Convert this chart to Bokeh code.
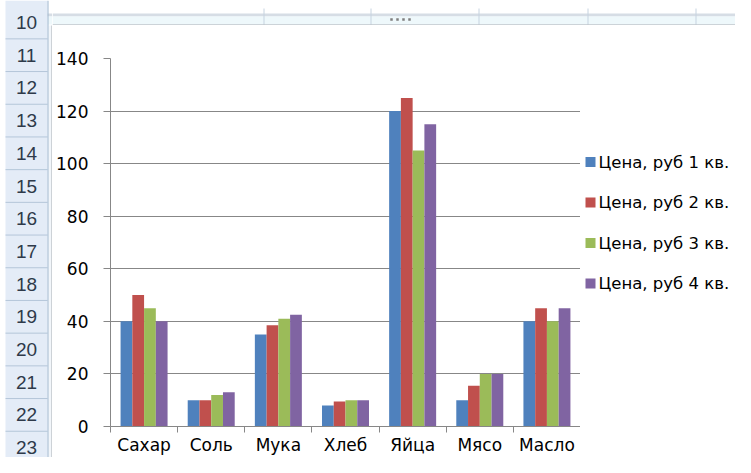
from bokeh.plotting import figure
from bokeh.models import FactorRange, Range1d, LinearAxis, FixedTicker, ColumnDataSource
from bokeh.layouts import row, column
from bokeh.transform import dodge
from bokeh.core.properties import value
from bokeh.embed import file_html
from bokeh.resources import INLINE

# ---------------- data ----------------
categories = ["Сахар", "Соль", "Мука", "Хлеб", "Яйца", "Мясо", "Масло"]
q1 = [40, 10, 35, 8, 120, 10, 40]
q2 = [50, 10, 38.5, 9.5, 125, 15.5, 45]
q3 = [45, 12, 41, 10, 105, 20, 40]
q4 = [40, 13, 42.5, 10, 115, 20, 45]
series_names = ["Цена, руб 1 кв.", "Цена, руб 2 кв.", "Цена, руб 3 кв.", "Цена, руб 4 кв."]
y_ticks = [0, 20, 40, 60, 80, 100, 120, 140]
row_numbers = list(range(10, 24))

# ---------------- style ----------------
colors = ["#4F81BD", "#C0504D", "#9BBB59", "#8064A2"]
GRID = "#878787"
FONT = "DejaVu Sans"
FS = "17px"
HDR_BG = "#E4ECF7"
HDR_LINE = "#B4C6D9"
BORDER = "#A3ABB3"

TOTAL_W, TOTAL_H = 735, 457
HDR_W = 52          # spreadsheet row header strip
TOP_H = 25          # spreadsheet column strip
FRAME_R = 580       # right end of the plot area
FRAME_T = 58        # top of the plot area
FRAME_B = 426       # bottom of the plot area
CH_W = FRAME_R - HDR_W
LEG_W = TOTAL_W - FRAME_R
CH_H = TOTAL_H - TOP_H
MB_TOP = FRAME_T - TOP_H
MB_BOT = TOTAL_H - FRAME_B


def bare(width, height, xr, yr, top=0, bottom=0):
    f = figure(width=width, height=height, x_range=xr, y_range=yr,
               output_backend="svg", toolbar_location=None,
               x_axis_location=None, y_axis_location=None,
               min_border=0, min_border_left=0, min_border_right=0,
               min_border_top=top, min_border_bottom=bottom)
    f.grid.visible = False
    f.outline_line_color = None
    f.background_fill_color = "white"
    f.border_fill_color = "white"
    return f


# ---------------- row header (spreadsheet) ----------------
hdr = bare(HDR_W, TOTAL_H, Range1d(0, HDR_W), Range1d(TOTAL_H, 0))
hdr.quad(left=5, right=47, top=0, bottom=TOTAL_H, fill_color=HDR_BG, line_color=None)
hdr.quad(left=47, right=52, top=13, bottom=16, fill_color="#D6DDE5", line_color=None)
hdr.quad(left=47, right=52, top=16, bottom=24, fill_color="#EEF8FB", line_color=None)
hdr.quad(left=48, right=51, top=25, bottom=TOTAL_H, fill_color="#F2F6FA", line_color=None)
pitch = 32.7
sep_y = [22 + pitch * (k + 0.5) for k in range(len(row_numbers) - 1)]
hdr.segment(x0=5, x1=47, y0=sep_y, y1=sep_y, line_color=HDR_LINE, line_width=1)
hdr.segment(x0=47.5, x1=47.5, y0=0, y1=TOTAL_H, line_color="#9EB6CE", line_width=1)
hdr.segment(x0=51.5, x1=51.5, y0=25, y1=TOTAL_H, line_color=BORDER, line_width=1)
hdr.text(x=[26] * len(row_numbers), y=[22 + pitch * k for k in range(len(row_numbers))],
         text=[str(r) for r in row_numbers], text_align="center", text_baseline="middle",
         text_font=value("Liberation Sans"), text_font_size="19px", text_color="#2E3A4A")

# ---------------- column strip (spreadsheet) ----------------
top = bare(TOTAL_W - HDR_W, TOP_H, Range1d(HDR_W, TOTAL_W), Range1d(TOP_H, 0))
top.quad(left=HDR_W, right=TOTAL_W, top=13, bottom=16, fill_color="#D6DDE5", line_color=None)
top.quad(left=HDR_W, right=TOTAL_W, top=16, bottom=24, fill_color="#EEF8FB", line_color=None)
col_x = [263.5, 370.5, 478.5, 587.5, 695.5]
top.segment(x0=col_x, x1=col_x, y0=[8] * 5, y1=[24] * 5, line_color="#C6D3E0", line_width=1)
top.segment(x0=HDR_W, x1=TOTAL_W, y0=24.5, y1=24.5, line_color=BORDER, line_width=1)
top.scatter(x=[391, 397, 403, 409], y=[19] * 4, marker="square", size=2.5,
            fill_color="#7F7F7F", line_color=None)

# ---------------- chart ----------------
p = figure(width=CH_W, height=CH_H,
           x_range=FactorRange(*categories, range_padding=0),
           y_range=Range1d(0, 140),
           output_backend="svg", toolbar_location=None,
           x_axis_location=None,
           min_border_left=58, min_border_right=0,
           min_border_top=MB_TOP, min_border_bottom=MB_BOT)
p.outline_line_color = None
p.xgrid.visible = False
p.background_fill_color = "white"
p.border_fill_color = "white"

src = ColumnDataSource(dict(cat=categories, q1=q1, q2=q2, q3=q3, q4=q4))
bw = 0.175
offsets = [-1.5 * bw, -0.5 * bw, 0.5 * bw, 1.5 * bw]
for col, off, c in zip(["q1", "q2", "q3", "q4"], offsets, colors):
    p.vbar(x=dodge("cat", off, range=p.x_range), top=col, width=bw,
           source=src, fill_color=c, line_color=None)

# y axis
p.yaxis.ticker = FixedTicker(ticks=y_ticks)
p.yaxis.major_tick_out = 7
p.yaxis.major_tick_in = 0
p.yaxis.minor_tick_line_color = None
p.yaxis.major_tick_line_color = GRID
p.yaxis.axis_line_color = GRID
p.yaxis.major_label_standoff = 15
p.yaxis.major_label_text_font = FONT
p.yaxis.major_label_text_font_size = FS
p.yaxis.major_label_text_color = "black"
p.ygrid.grid_line_color = GRID
p.ygrid.ticker = FixedTicker(ticks=y_ticks)

# x axis: labels at category centres, tick marks at category boundaries
n = len(categories)
xaxis = LinearAxis(
    ticker=FixedTicker(ticks=[i + 0.5 for i in range(n)], minor_ticks=list(range(n + 1))),
    major_label_overrides={i + 0.5: c for i, c in enumerate(categories)},
    major_tick_out=0, major_tick_in=0,
    minor_tick_out=6, minor_tick_in=0,
    minor_tick_line_color=GRID, axis_line_color=GRID,
    major_label_standoff=2,
    major_label_text_font=FONT, major_label_text_font_size=FS,
    major_label_text_color="black")
p.add_layout(xaxis, "below")

# ---------------- legend panel ----------------
leg = bare(LEG_W, CH_H, Range1d(FRAME_R, TOTAL_W), Range1d(FRAME_B, FRAME_T),
           top=MB_TOP, bottom=MB_BOT)
item_y = [161.5 + 40.5 * k for k in range(len(series_names))]
leg.rect(x=[590] * 4, y=item_y, width=10, height=10, fill_color=colors, line_color=None)
leg.text(x=[598] * 4, y=item_y, text=series_names, text_align="left", text_baseline="middle",
         text_font=value(FONT), text_font_size="16.5px", text_color="black")

layout = row(hdr, column(top, row(p, leg, spacing=0), spacing=0), spacing=0)

open("out.html", "w").write(file_html(layout, INLINE))
